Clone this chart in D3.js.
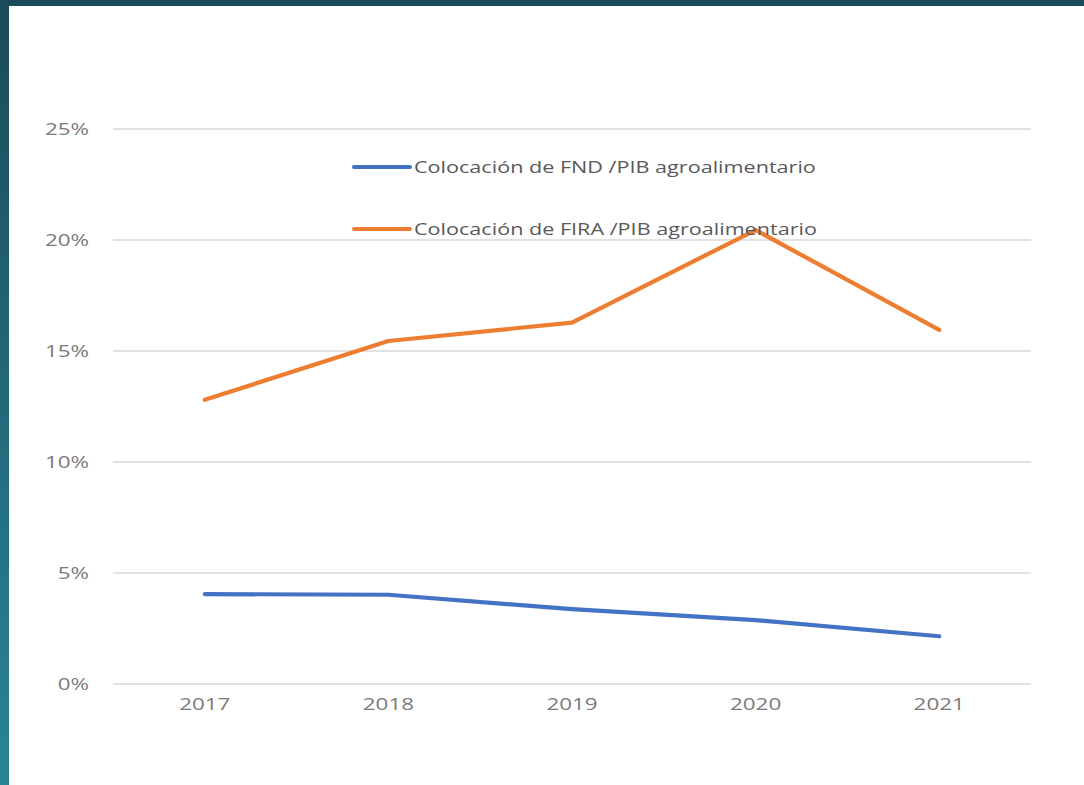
<!DOCTYPE html>
<html lang="es">
<head>
<meta charset="utf-8">
<script src="https://cdn.jsdelivr.net/npm/d3@7"></script>
<style>
html, body {
  margin: 0;
  padding: 0;
}
body {
  width: 1084px;
  height: 785px;
  overflow: hidden;
  background: linear-gradient(to bottom, #1b4a59 0%, #22697a 50%, #2a8494 100%);
  font-family: "Open Sans", sans-serif;
}
#chart {
  position: absolute;
  left: 9px;
  top: 6px;
  width: 1075px;
  height: 779px;
  background: #fff;
}
.grid line {
  stroke: #d9d9d9;
  stroke-width: 1.3;
}
.tick text {
  fill: #7a7a7a;
  font-size: 16px;
}
.legend text {
  fill: #595959;
  font-size: 16px;
}
</style>
</head>
<body>
<div id="chart"></div>
<script>

var years = ["2017", "2018", "2019", "2020", "2021"];
var fnd  = [0.0405, 0.0402, 0.0337, 0.0288, 0.0215];
var fira = [0.1280, 0.1545, 0.1628, 0.2045, 0.1595];
var seriesNames = ["Colocación de FND /PIB agroalimentario", "Colocación de FIRA /PIB agroalimentario"];
var colors = ["#4472c4", "#ed7d31"];
var yTicks = [0, 0.05, 0.10, 0.15, 0.20, 0.25];

// the picture is stretched sideways, so text is widened too
var tickStretch = 1.4, legendStretch = 1.35;

// chart box is offset by (9,6) from page
var margin = {top: 123, right: 53, bottom: 101, left: 104},
    width = 1075 - margin.left - margin.right,
    height = 779 - margin.top - margin.bottom;

var svg = d3.select("#chart").append("svg")
    .attr("width", 1075)
    .attr("height", 779)
  .append("g")
    .attr("transform", "translate(" + margin.left + "," + margin.top + ")");

var x = d3.scaleBand().domain(years).range([0, width]);
var y = d3.scaleLinear().domain([0, 0.25]).range([height, 0]);

// gridlines
svg.append("g")
    .attr("class", "grid")
  .selectAll("line")
    .data(yTicks)
  .enter().append("line")
    .attr("x1", 0)
    .attr("x2", width)
    .attr("y1", function(d) { return y(d); })
    .attr("y2", function(d) { return y(d); });

// y axis labels
var yAxis = svg.append("g")
    .call(d3.axisLeft(y).tickValues(yTicks).tickFormat(d3.format(".0%")).tickSize(0));
yAxis.select(".domain").remove();
yAxis.selectAll("text")
    .attr("x", -24 / tickStretch)
    .attr("dy", "0.35em")
    .attr("transform", "scale(" + tickStretch + ",1)")
    .style("font-family", "Open Sans");

// x axis labels
var xAxis = svg.append("g")
    .attr("transform", "translate(0," + height + ")")
    .call(d3.axisBottom(x).tickSize(0).tickPadding(15));
xAxis.select(".domain").remove();
xAxis.selectAll("text")
    .attr("transform", "scale(" + tickStretch + ",1)")
    .style("font-family", "Open Sans");

var line = d3.line()
    .x(function(d, i) { return x(years[i]) + x.bandwidth() / 2; })
    .y(function(d) { return y(d); });

[fnd, fira].forEach(function(s, i) {
  svg.append("path")
      .datum(s)
      .attr("fill", "none")
      .attr("stroke", colors[i])
      .attr("stroke-width", 4.2)
      .attr("stroke-linejoin", "round")
      .attr("stroke-linecap", "round")
      .attr("d", line);
});

// legend
var legend = svg.selectAll(".legend")
    .data(seriesNames)
  .enter().append("g")
    .attr("class", "legend")
    .attr("transform", function(d, i) { return "translate(" + 241 + "," + (38 + i * 62) + ")"; });

legend.append("line")
    .attr("x1", 0)
    .attr("x2", 56)
    .attr("stroke", function(d, i) { return colors[i]; })
    .attr("stroke-width", 4)
    .attr("stroke-linecap", "round");

legend.append("text")
    .attr("x", 60 / legendStretch)
    .attr("dy", "0.35em")
    .attr("transform", "scale(" + legendStretch + ",1)")
    .text(function(d) { return d; });

</script>
</body>
</html>
